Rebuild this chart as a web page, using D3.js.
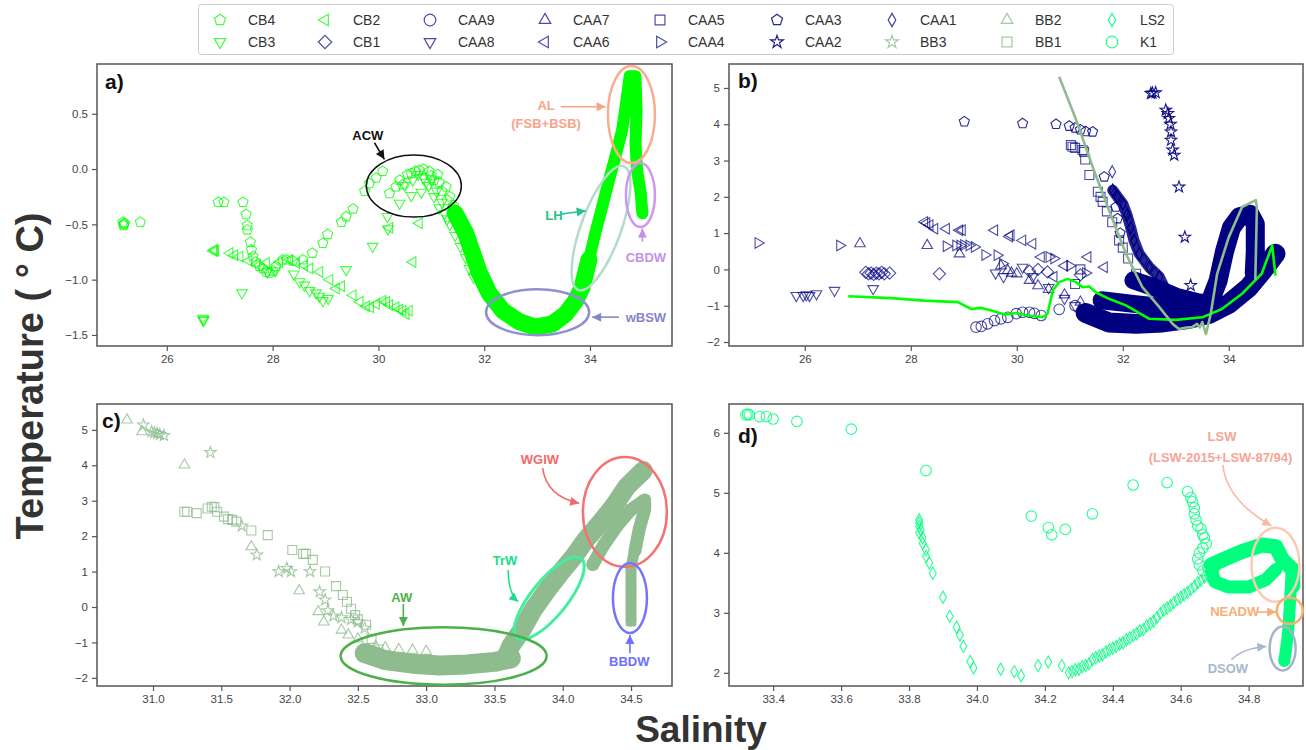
<!DOCTYPE html>
<html>
<head>
<meta charset="utf-8">
<script src="https://cdn.jsdelivr.net/npm/d3@7"></script>
<style>
  body { margin: 0; background: #fff; }
  svg { display: block; font-family: "Liberation Sans", Arial, sans-serif; }
</style>
</head>
<body>
<script>
// ---- panel a : Canada Basin (CB) stations ----
const cb4 = [[25.17,-0.48],[25.19,-0.5],[25.2,-0.49],[25.18,-0.51],[25.5,-0.48],
  [26.97,-0.3],[27.08,-0.3],[27.44,-0.3],[27.5,-0.41],[27.52,-0.51],[27.52,-0.55],[27.58,-0.66],[27.6,-0.73],
  [27.63,-0.79],[27.68,-0.84],[27.75,-0.88],[27.82,-0.9],[27.88,-0.93],[27.94,-0.94],[28.0,-0.92],[28.06,-0.88],
  [28.19,-0.82],[28.26,-0.82],[28.38,-0.83],[28.57,-0.82],[28.75,-0.76],[28.95,-0.67],[29.04,-0.59],[29.3,-0.48],
  [29.39,-0.43],[29.52,-0.36],[29.74,-0.2],[29.83,-0.13],[29.96,-0.08],[30.08,-0.02],[30.21,-0.22],[30.33,-0.16],
  [30.4,-0.1],[30.46,-0.14],[30.55,-0.05],[30.62,-0.04],[30.7,-0.02],[30.77,-0.01],[30.85,0.0],[30.96,-0.02],
  [31.0,-0.06],[31.05,-0.1],[31.12,-0.05],[31.15,-0.12],[31.2,-0.2],[31.28,-0.16],[31.3,-0.28],[31.35,-0.25],
  [31.4,-0.35],[31.42,-0.33],[31.48,-0.42],[31.5,-0.45],[31.55,-0.5],[31.58,-0.55],[31.6,-0.58],[31.62,-0.62],
  [31.7,-0.7],[31.75,-0.78]];
const cb3 = [[26.68,-1.35],[26.7,-1.36],[26.69,-1.37],[27.42,-1.12],[27.9,-0.93],[28.05,-0.92],[28.4,-0.95],
  [28.51,-1.02],[28.6,-1.05],[28.7,-1.1],[28.82,-1.12],[28.88,-1.15],[28.95,-1.19],[29.05,-1.17],[29.39,-0.91],
  [29.89,-0.7],[30.17,-0.43],[30.18,-0.54],[30.4,-0.31],[30.5,-0.15],[30.62,-0.24],[30.65,-0.1],[30.75,-0.05],
  [30.81,-0.21],[30.85,-0.08],[30.9,-0.12],[30.95,-0.15],[31.0,-0.1],[31.05,-0.25],[31.1,-0.2],[31.15,-0.35],
  [31.2,-0.3],[31.25,-0.4],[31.3,-0.45],[31.35,-0.5],[31.45,-0.6],[31.55,-0.7],[31.65,-0.8],[31.72,-0.9],[31.8,-0.98]];
const cb2 = [[26.88,-0.74],[26.9,-0.73],[26.92,-0.74],[27.19,-0.76],[27.28,-0.78],[27.38,-0.79],[27.55,-0.83],
  [27.7,-0.86],[27.88,-0.85],[28.13,-0.84],[28.32,-0.82],[28.45,-0.85],[28.6,-0.87],[28.7,-0.9],[28.89,-0.93],
  [29.08,-1.0],[29.2,-1.08],[29.3,-1.06],[29.52,-1.14],[29.65,-1.2],[29.77,-1.24],[29.85,-1.25],[29.96,-1.22],
  [30.08,-1.19],[30.15,-1.2],[30.21,-1.23],[30.33,-1.25],[30.4,-1.27],[30.46,-1.28],[30.52,-1.31],[30.58,-1.28],
  [30.21,-0.53],[30.65,-0.84],[30.77,-0.49]];
// dense CB profiles (centre of the saturated band)
const cbBandLow = [[31.45,-0.4],[31.65,-0.58],[31.78,-0.76],[31.91,-0.94],[32.09,-1.12],[32.35,-1.28],[32.66,-1.38],
  [32.97,-1.43],[33.29,-1.4],[33.54,-1.31],[33.73,-1.19],[33.85,-1.07],[33.98,-0.82]];
const cbBandHigh = [[33.98,-0.82],[34.1,-0.58],[34.23,-0.34],[34.36,-0.1],[34.48,0.11],[34.61,0.36],[34.7,0.66],
  [34.75,0.84],[34.86,0.84],[34.88,0.53],[34.86,0.23],[34.89,-0.01],[34.96,-0.22],[34.99,-0.4]];

// ---- panel b : Canadian Arctic Archipelago (CAA) stations ----
const cb1 = [[27.15,-0.08],[27.2,-0.12],[27.25,-0.1],[27.3,-0.14],[27.35,-0.1],[27.4,-0.12],[27.45,-0.08],
  [27.5,-0.12],[27.6,-0.1],[28.54,-0.12],[30.24,-0.05],[30.4,0.0],[30.58,-0.07],[31.2,-0.15]];
const caa9 = [[29.23,-1.59],[29.33,-1.57],[29.45,-1.5],[29.58,-1.41],[29.7,-1.36],[29.83,-1.32],[29.99,-1.22],
  [30.11,-1.18],[30.24,-1.18],[30.33,-1.21],[30.46,-1.27],[30.8,-1.1],[31.1,-1.0],[31.3,-1.2],[31.6,-0.9]];
const caa8 = [[25.84,-0.72],[25.97,-0.72],[26.03,-0.7],[26.09,-0.72],[26.22,-0.67],[26.56,-0.58],[27.29,-0.53],
  [29.6,-0.1],[29.75,-0.2],[30.11,0.06],[30.3,-0.2],[30.6,-0.5],[30.9,-0.8],[31.1,-1.0]];
const caa7 = [[27.04,0.71],[28.31,0.66],[28.92,0.43],[29.7,0.1],[29.83,-0.03],[29.9,-0.1],[30.0,-0.12],
  [30.24,-0.3],[30.4,-0.45],[30.6,-0.55],[30.9,-0.7],[31.2,-0.9],[31.5,-1.1]];
const caa6 = [[28.26,1.31],[28.3,1.28],[28.36,1.22],[28.45,1.12],[28.67,1.12],[28.92,1.08],[28.97,1.08],
  [29.58,1.08],[29.86,0.91],[29.89,0.94],[30.11,0.8],[30.3,0.71],[30.46,0.34],[31.34,0.34],[31.65,0.06],
  [30.9,0.1],[30.7,-0.2]];
const caa5 = [[31.02,3.43],[31.05,3.38],[31.1,3.35],[31.24,3.29],[31.27,3.24],[31.29,3.03],[31.37,2.6],
  [31.53,2.14],[31.58,2.0],[31.62,1.86],[31.7,1.6],[31.8,1.3],[31.93,0.8],[32.0,0.6],[32.1,0.3],[32.25,-0.12],
  [32.37,-0.3],[31.2,0.0],[31.1,-0.4]];
const caa4 = [[25.12,0.73],[26.66,0.66],[28.67,0.64],[28.85,0.66],[28.93,0.66],[29.0,0.67],[29.1,0.66],
  [29.2,0.62],[29.4,0.4],[29.63,0.39],[29.73,0.16],[30.61,0.34],[30.7,0.3],[31.0,0.1],[31.3,-0.1]];
const caa3 = [[29.01,4.07],[30.11,4.02],[30.74,4.0],[30.99,3.95],[31.1,3.9],[31.2,3.85],[31.3,3.8],[31.43,3.79],
  [31.65,2.55],[31.87,1.72],[31.9,1.4],[31.95,1.0]];
const caa2 = [[32.53,4.85],[32.56,4.86],[32.62,4.87],[32.81,4.39],[32.85,4.3],[32.87,4.16],[32.9,4.0],
  [32.91,3.79],[32.91,3.56],[32.94,3.29],[32.97,3.15],[33.06,2.27],[33.17,0.89],[33.28,-0.44]];
const caa1 = [[31.8,2.69],[31.81,2.18],[31.85,2.1],[31.9,2.0],[31.95,1.9],[32.0,1.81],[32.05,1.6],[32.08,1.5],
  [32.12,1.35],[32.15,1.15],[32.18,1.0],[32.21,0.8],[32.25,0.6],[32.31,0.43],[32.4,0.25],[32.5,0.06],
  [32.6,-0.1],[32.69,-0.21],[32.78,-0.49]];
// dense CAA profiles
const caa1Band = [[31.81,2.18],[31.9,2.0],[32.0,1.81],[32.08,1.5],[32.15,1.15],[32.21,0.8],[32.31,0.43],
  [32.5,0.06],[32.69,-0.21],[32.78,-0.49]];
const caaBandLow = [[31.3,-1.2],[31.74,-1.46],[32.25,-1.5],[32.75,-1.46],[33.25,-1.36],[33.63,-1.22],[34.0,-0.95],
  [34.38,-0.49],[34.69,0.06],[34.88,0.43]];
const caaBandMid = [[31.6,-0.85],[32.2,-0.95],[32.8,-1.05],[33.4,-1.1]];
const caaBandTop = [[32.2,-0.3],[32.6,-0.5],[33.0,-0.75],[33.4,-0.9],[33.7,-0.95]];
const caaArm = [[33.63,-0.95],[33.8,-0.3],[33.92,0.5],[34.05,1.15],[34.2,1.45],[34.4,1.52],[34.5,1.25],
  [34.5,0.5],[34.48,-0.1]];
// mean profiles drawn as lines
const cbLine = [[26.82,-0.74],[27.63,-0.79],[28.26,-0.86],[28.89,-0.9],[29.14,-1.09],[29.33,-1.06],[29.52,-1.13],
  [29.77,-1.24],[30.0,-1.2],[30.2,-1.27],[30.49,-1.32],[30.58,-1.22],[30.68,-0.58],[30.8,-0.35],[30.96,-0.26],
  [31.12,-0.35],[31.24,-0.49],[31.37,-0.47],[31.49,-0.63],[31.74,-0.81],[32.06,-0.99],[32.5,-1.36],[33.0,-1.39],
  [33.5,-1.32],[33.87,-1.09],[34.25,-0.67],[34.62,-0.12],[34.82,0.66],[34.88,-0.17]];
const bbLine = [[30.8,5.31],[31.12,4.12],[31.43,2.83],[31.74,1.63],[32.06,0.43],[32.37,-0.49],[32.69,-1.04],
  [32.94,-1.5],[33.06,-1.64],[33.2,-1.6],[33.31,-1.59],[33.4,-1.5],[33.45,-1.6],[33.5,-1.45],[33.57,-1.78],
  [33.66,-1.22],[33.78,-0.12],[34.0,0.89],[34.25,1.72],[34.51,1.91],[34.53,1.7],[34.5,-0.3]];

// ---- panel c : Baffin Bay (BB) stations ----
const bb3 = [[30.93,5.14],[30.99,4.95],[31.01,4.92],[31.03,4.9],[31.05,4.87],[31.08,4.84],[31.42,4.36],
  [31.65,2.29],[31.76,1.47],[31.92,1.0],[31.98,1.09],[32.01,1.0],[32.15,1.0],[32.22,0.43],[32.26,0.2],
  [32.28,-0.1],[32.32,-0.25],[32.38,-0.3],[32.45,-0.35],[32.5,-0.42],[32.55,-0.6]];
const bb2 = [[30.81,5.28],[30.92,4.95],[31.23,4.01],[31.72,1.7],[32.07,0.46],[32.21,-0.13],[32.25,-0.42],
  [32.38,-0.65],[32.43,-0.79],[32.5,-0.9],[32.63,-1.12],[32.7,-1.15],[32.8,-1.2],[32.9,-1.22],[33.0,-1.25]];
const bb1 = [[31.23,2.69],[31.25,2.69],[31.32,2.65],[31.4,2.78],[31.43,2.83],[31.45,2.82],[31.47,2.69],
  [31.52,2.55],[31.55,2.48],[31.58,2.46],[31.61,2.41],[31.72,2.16],[31.84,2.03],[32.02,1.61],[32.1,1.5],
  [32.12,1.5],[32.17,1.33],[32.26,1.0],[32.34,0.59],[32.39,0.34],[32.42,0.15],[32.45,-0.05],[32.48,-0.23],
  [32.5,-0.35],[32.56,-0.5],[32.6,-0.9],[32.65,-1.2]];
const bbBandLow = [[32.55,-1.3],[32.7,-1.5],[32.9,-1.6],[33.1,-1.65],[33.3,-1.62],[33.5,-1.55],[33.62,-1.45]];
const bbBandRise = [[33.58,-1.45],[33.62,-1.1],[33.7,-0.65],[33.78,-0.1],[33.88,0.45],[33.98,0.95],[34.08,1.42],
  [34.17,1.9],[34.27,2.35],[34.37,2.83],[34.47,3.4],[34.59,3.85]];
const bbBandBranch = [[34.22,1.2],[34.3,1.75],[34.4,2.3],[34.5,2.75],[34.6,3.02],[34.6,2.75],[34.56,2.2],[34.53,1.6]];
const bbBandDeep = [[34.53,1.7],[34.5,1.1],[34.5,0.4],[34.5,-0.4]];

// ---- panel d : Labrador Sea (LS2) and K1 ----
const ls2 = [[33.83,4.55],[33.83,4.5],[33.83,4.44],[33.835,4.38],[33.83,4.33],[33.84,4.25],[33.84,4.16],
  [33.85,4.05],[33.85,3.94],[33.86,3.83],[33.87,3.66],[33.9,3.26],[33.92,2.94],[33.94,2.76],[33.95,2.63],
  [33.96,2.44],[33.98,2.19],[33.99,2.08],[34.07,2.06],[34.11,2.02],[34.13,1.95],[34.18,2.12],[34.21,2.18],
  [34.25,2.12],[34.27,2.0],[34.28,2.02],[34.29,2.05],[34.3,2.06],[34.31,2.1],[34.32,2.12],[34.33,2.15],
  [34.34,2.22],[34.35,2.25],[34.36,2.28],[34.37,2.3],[34.38,2.35],[34.39,2.38],[34.4,2.41],[34.41,2.44],
  [34.42,2.48],[34.43,2.5],[34.44,2.55],[34.45,2.58],[34.46,2.62],[34.47,2.65],[34.48,2.7],[34.49,2.72],
  [34.5,2.78],[34.51,2.82],[34.52,2.86],[34.53,2.92],[34.54,2.99],[34.55,3.04],[34.56,3.08],[34.57,3.12],
  [34.58,3.17],[34.59,3.22],[34.6,3.26],[34.61,3.3],[34.62,3.34],[34.63,3.39],[34.64,3.44],[34.65,3.5],
  [34.66,3.54],[34.67,3.6],[34.68,3.63],[34.69,3.66],[34.7,3.72],[34.71,3.78]];
const k1 = [[33.32,6.3],[33.325,6.31],[33.33,6.3],[33.36,6.27],[33.38,6.27],[33.4,6.23],[33.47,6.19],[33.63,6.06],
  [33.85,5.37],[34.16,4.61],[34.21,4.42],[34.22,4.3],[34.26,4.39],[34.34,4.65],[34.46,5.13],[34.56,5.17],
  [34.62,5.02],[34.63,4.92],[34.635,4.85],[34.64,4.75],[34.64,4.65],[34.645,4.55],[34.65,4.45],[34.66,4.4],
  [34.665,4.3],[34.67,4.25],[34.675,4.15],[34.665,4.08],[34.655,4.0],[34.65,3.9],[34.655,3.8],[34.665,3.7],
  [34.68,3.75]];
const k1Upper = [[34.69,3.8],[34.73,3.9],[34.78,4.02],[34.84,4.13],[34.88,4.1],[34.9,3.88],[34.93,3.72],[34.93,3.45]];
const k1Lower = [[34.69,3.72],[34.7,3.52],[34.74,3.43],[34.8,3.43],[34.85,3.55],[34.88,3.72]];
const k1Deep = [[34.925,3.5],[34.92,3.0],[34.915,2.6],[34.905,2.2]];

// ---- axes ----
const ticksAx = [26, 28, 30, 32, 34], ticksAy = [-1.5, -1.0, -0.5, 0.0, 0.5];
const ticksBx = [26, 28, 30, 32, 34], ticksBy = [-2, -1, 0, 1, 2, 3, 4, 5];
const ticksCx = [31.0, 31.5, 32.0, 32.5, 33.0, 33.5, 34.0, 34.5], ticksCy = [-2, -1, 0, 1, 2, 3, 4, 5];
const ticksDx = [33.4, 33.6, 33.8, 34.0, 34.2, 34.4, 34.6, 34.8], ticksDy = [2, 3, 4, 5, 6];

const LIME = "#00ff00", NAVY = "#000080", DSG = "#8fbc8f", SPRING = "#00ff7f";

const styles = {
  CB4: ["pentagon", LIME, 0.75], CB3: ["tri_down", LIME, 0.75], CB2: ["tri_left", LIME, 0.75],
  CB1: ["diamond", NAVY, 0.7], CAA9: ["circle", NAVY, 0.7], CAA8: ["tri_down", NAVY, 0.7],
  CAA7: ["tri_up", NAVY, 0.7], CAA6: ["tri_left", NAVY, 0.7], CAA5: ["square", NAVY, 0.7],
  CAA4: ["tri_right", NAVY, 0.7], CAA3: ["pentagon", NAVY, 0.85], CAA2: ["star", NAVY, 0.9],
  CAA1: ["thin_diamond", NAVY, 0.75], BB3: ["star", DSG, 0.8], BB2: ["tri_up", DSG, 0.8],
  BB1: ["square", DSG, 0.8], LS2: ["thin_diamond", SPRING, 0.85], K1: ["circle", SPRING, 0.85]
};
const legendCols = [["CB4", "CB3"], ["CB2", "CB1"], ["CAA9", "CAA8"], ["CAA7", "CAA6"], ["CAA5", "CAA4"],
  ["CAA3", "CAA2"], ["CAA1", "BB3"], ["BB2", "BB1"], ["LS2", "K1"]];

const panels = [
  { key: "a", x0: 97, x1: 672, y0: 64, y1: 346, xd: [24.68, 35.55], yd: [-1.60, 0.95], xt: ticksAx, yt: ticksAy,
    xf: d3.format("d"), yf: d3.format(".1f"), lx: 105, ly: 89,
    bands: [[cbBandLow, LIME, 17, "pentagon", 1], [cbBandHigh, LIME, 12, "pentagon", 1]],
    series: [["CB2", cb2], ["CB3", cb3], ["CB4", cb4]], lines: [] },
  { key: "b", x0: 729, x1: 1303, y0: 64, y1: 346, xd: [24.57, 35.4], yd: [-2.11, 5.66], xt: ticksBx, yt: ticksBy,
    xf: d3.format("d"), yf: d3.format("d"), lx: 738, ly: 88,
    bands: [[caaBandLow, NAVY, 20, "square", 1], [caaBandMid, NAVY, 18, "tri_up", 1], [caaBandTop, NAVY, 18, "square", 1],
      [caaArm, NAVY, 19, "tri_left", 1], [caa1Band, NAVY, 11, "thin_diamond", 0.85]],
    series: [["CB1", cb1], ["CAA9", caa9], ["CAA8", caa8], ["CAA7", caa7], ["CAA6", caa6], ["CAA5", caa5],
      ["CAA4", caa4], ["CAA3", caa3], ["CAA2", caa2], ["CAA1", caa1]],
    lines: [[cbLine, LIME], [bbLine, DSG]] },
  { key: "c", x0: 97, x1: 672, y0: 404, y1: 686, xd: [30.59, 34.80], yd: [-2.23, 5.73], xt: ticksCx, yt: ticksCy,
    xf: d3.format(".1f"), yf: d3.format("d"), lx: 102, ly: 428,
    bands: [[bbBandLow, DSG, 20, "tri_up", 1], [bbBandRise, DSG, 19, "square", 1], [bbBandBranch, DSG, 13, "square", 1],
      [bbBandDeep, DSG, 11, "square", 1]],
    series: [["BB1", bb1], ["BB3", bb3], ["BB2", bb2]], lines: [] },
  { key: "d", x0: 729, x1: 1303, y0: 404, y1: 686, xd: [33.27, 34.96], yd: [1.78, 6.48], xt: ticksDx, yt: ticksDy,
    xf: d3.format(".1f"), yf: d3.format("d"), lx: 738, ly: 443,
    bands: [[k1Upper, SPRING, 15, "circle", 1], [k1Lower, SPRING, 13, "circle", 1], [k1Deep, SPRING, 12, "circle", 1]],
    series: [["LS2", ls2], ["K1", k1]], lines: [] }
];

// annotations (positions in salinity / temperature units)
const notes = {
  a: [
    { e: [30.67, -0.154], rx: 47.5, ry: 31, rot: 0, c: "#111", w: 1.5 },
    { e: [34.783, 0.493], rx: 23.5, ry: 48.5, rot: 0, c: "#f9ad90", w: 2.5 },
    { e: [34.208, -0.534], rx: 20, ry: 66, rot: 20, c: "#b4dcc8", w: 2.5 },
    { e: [34.953, -0.235], rx: 14.5, ry: 32, rot: 0, c: "#cc99ee", w: 2.5 },
    { e: [33.009, -1.294], rx: 51.5, ry: 23, rot: 0, c: "#9090d0", w: 2.5 },
    { t: "ACW", at: [29.80, 0.30], c: "#111" },
    { a: [[29.925, 0.238], [30.113, 0.088]], c: "#111" },
    { t: "AL", at: [33.17, 0.579], c: "#f7a488" },
    { t: "(FSB+BSB)", at: [33.17, 0.416], c: "#f7a488" },
    { a: [[33.447, 0.564], [34.296, 0.564]], c: "#f7a488" },
    { t: "LH", at: [33.32, -0.416], c: "#22c28c" },
    { a: [[33.466, -0.407], [33.919, -0.377]], c: "#22c28c" },
    { t: "CBDW", at: [35.057, -0.796], c: "#c690ea" },
    { a: [[34.99, -0.658], [34.99, -0.537]], c: "#c690ea" },
    { t: "wBSW", at: [35.057, -1.339], c: "#8686c6" },
    { a: [[34.547, -1.339], [34.04, -1.339]], c: "#8686c6" }
  ],
  b: [],
  c: [
    { e: [34.455, 2.684], rx: 42, ry: 55, rot: 0, c: "#f47272", w: 2.5 },
    { e: [33.901, 0.246], rx: 18, ry: 51, rot: 39, c: "#44eea0", w: 3 },
    { e: [33.128, -1.384], rx: 103, ry: 28.7, rot: 0, c: "#4cb04c", w: 2.5 },
    { e: [34.492, 0.254], rx: 17, ry: 35, rot: 0, c: "#7474ff", w: 2.5 },
    { t: "WGIW", at: [33.833, 4.153], c: "#f46a6a" },
    { a: [[33.853, 3.918], [33.882, 3.116], [34.121, 2.929]], c: "#f46a6a" },
    { t: "TrW", at: [33.577, 1.308], c: "#22dd88" },
    { a: [[33.601, 1.045], [33.601, 0.387], [33.674, 0.15]], c: "#22dd88" },
    { t: "AW", at: [32.821, 0.274], c: "#4cb04c" },
    { a: [[32.833, 0.085], [32.833, -0.537]], c: "#4cb04c" },
    { t: "BBDW", at: [34.487, -1.545], c: "#7070ff" },
    { a: [[34.492, -1.309], [34.492, -0.791]], c: "#7070ff" }
  ],
  d: [
    { e: [34.879, 3.8], rx: 24, ry: 37, rot: 0, c: "#fbcbb4", w: 2.5 },
    { e: [34.921, 3.033], rx: 13, ry: 13, rot: 0, c: "#f5b070", w: 2.5 },
    { e: [34.9, 2.405], rx: 13, ry: 22, rot: 0, c: "#a4b4c8", w: 2.5 },
    { t: "LSW", at: [34.7215, 5.938], c: "#f8a494" },
    { t: "(LSW-2015+LSW-87/94)", at: [34.717, 5.595], c: "#f8a494" },
    { a: [[34.724, 5.467], [34.734, 4.883], [34.867, 4.45]], c: "#f8b8a4" },
    { t: "NEADW", at: [34.759, 3.022], c: "#f5ae78" },
    { a: [[34.827, 3.012], [34.881, 3.012]], c: "#f5ae78" },
    { t: "DSOW", at: [34.739, 2.078], c: "#a8b8cc" },
    { a: [[34.749, 2.217], [34.783, 2.411], [34.852, 2.438]], c: "#a8b8cc" }
  ]
};

function shapePath(shape, r) {
  const reg = (n, rot, rr) => d3.range(n).map(i => {
    const a = rot + i * 2 * Math.PI / n;
    return [rr * Math.sin(a), -rr * Math.cos(a)];
  });
  let p;
  switch (shape) {
    case "circle": return `M${r},0A${r},${r},0,1,1,${-r},0A${r},${r},0,1,1,${r},0Z`;
    case "square": { const s = r * 0.85; p = [[-s, -s], [s, -s], [s, s], [-s, s]]; break; }
    case "diamond": p = reg(4, 0, r * 1.15); break;
    case "thin_diamond": p = [[0, -r * 1.15], [r * 0.65, 0], [0, r * 1.15], [-r * 0.65, 0]]; break;
    case "tri_up": p = reg(3, 0, r * 1.15); break;
    case "tri_down": p = reg(3, Math.PI, r * 1.15); break;
    case "tri_left": p = reg(3, -Math.PI / 2, r * 1.15); break;
    case "tri_right": p = reg(3, Math.PI / 2, r * 1.15); break;
    case "pentagon": p = reg(5, 0, r); break;
    case "star": p = d3.range(10).map(i => {
      const a = i * Math.PI / 5, rr = i % 2 ? r * 0.45 : r * 1.15;
      return [rr * Math.sin(a), -rr * Math.cos(a)];
    }); break;
  }
  return "M" + p.map(q => q.map(v => v.toFixed(2)).join(",")).join("L") + "Z";
}

const W = 1306, H = 750, R = 5.3;
const svg = d3.select("body").append("svg").attr("width", W).attr("height", H);
svg.append("rect").attr("width", W).attr("height", H).attr("fill", "#fff");

function arrow(g, pts, color) {
  const path = pts.length === 3
    ? `M${pts[0]}Q${pts[1]} ${pts[2]}` : `M${pts[0]}L${pts[1]}`;
  g.append("path").attr("d", path).attr("fill", "none").attr("stroke", color).attr("stroke-width", 1.6);
  const [ex, ey] = pts[pts.length - 1], [px, py] = pts[pts.length - 2];
  const ang = Math.atan2(ey - py, ex - px), L = 9, Wd = 4.5;
  const bx = ex - L * Math.cos(ang), by = ey - L * Math.sin(ang);
  g.append("path")
    .attr("d", `M${ex},${ey}L${bx - Wd * Math.sin(ang)},${by + Wd * Math.cos(ang)}L${bx + Wd * Math.sin(ang)},${by - Wd * Math.cos(ang)}Z`)
    .attr("fill", color);
}

panels.forEach(p => {
  const x = d3.scaleLinear().domain(p.xd).range([p.x0, p.x1]);
  const y = d3.scaleLinear().domain(p.yd).range([p.y1, p.y0]);
  const g = svg.append("g");

  g.append("clipPath").attr("id", "clip-" + p.key).append("rect")
    .attr("x", p.x0).attr("y", p.y0).attr("width", p.x1 - p.x0).attr("height", p.y1 - p.y0);
  const plot = g.append("g").attr("clip-path", `url(#clip-${p.key})`);

  const line = d3.line().x(d => x(d[0])).y(d => y(d[1]));

  // dense bands of overlapping markers
  p.bands.forEach(([data, color, w, shape, op]) => {
    plot.append("path").attr("d", line(data)).attr("fill", "none").attr("stroke", color)
      .attr("stroke-opacity", op)
      .attr("stroke-width", w).attr("stroke-linejoin", "round").attr("stroke-linecap", "round");
  });
  p.bands.forEach(([data, color, w, shape]) => {
    plot.append("g").selectAll("path").data(data).join("path")
      .attr("d", shapePath(shape, R))
      .attr("transform", d => `translate(${x(d[0])},${y(d[1])})`)
      .attr("fill", "none").attr("stroke", color).attr("stroke-width", 1.1);
  });

  // scatter markers
  p.series.forEach(([name, data]) => {
    const [shape, color, op] = styles[name];
    plot.append("g").selectAll("path").data(data).join("path")
      .attr("d", shapePath(shape, R))
      .attr("transform", d => `translate(${x(d[0])},${y(d[1])})`)
      .attr("fill", "none").attr("stroke", color).attr("stroke-opacity", op).attr("stroke-width", 1.1);
  });

  // mean profile lines
  p.lines.forEach(([data, color]) => {
    plot.append("path").attr("d", line(data)).attr("fill", "none").attr("stroke", color)
      .attr("stroke-width", 2.6).attr("stroke-linejoin", "round");
  });

  // frame and axes
  g.append("rect").attr("x", p.x0).attr("y", p.y0).attr("width", p.x1 - p.x0).attr("height", p.y1 - p.y0)
    .attr("fill", "none").attr("stroke", "#555").attr("stroke-width", 1.5);
  const ax = g.append("g").attr("transform", `translate(0,${p.y1})`)
    .call(d3.axisBottom(x).tickValues(p.xt).tickFormat(p.xf).tickSize(5).tickPadding(4));
  const ay = g.append("g").attr("transform", `translate(${p.x0},0)`)
    .call(d3.axisLeft(y).tickValues(p.yt).tickFormat(p.yf).tickSize(5).tickPadding(4));
  [ax, ay].forEach(a => {
    a.select(".domain").remove();
    a.selectAll("line").attr("stroke", "#555").attr("stroke-width", 1.2);
    a.selectAll("text").attr("fill", "#444").style("font-size", "11.5px")
      .style("font-family", "'Liberation Sans', Arial, sans-serif");
  });

  g.append("text").attr("x", p.lx).attr("y", p.ly).text(p.key + ")")
    .attr("font-size", 21).attr("font-weight", "bold").attr("fill", "#111");

  // annotations
  const ann = g.append("g");
  notes[p.key].forEach(n => {
    if (n.e) {
      ann.append("ellipse").attr("rx", n.rx).attr("ry", n.ry)
        .attr("transform", `translate(${x(n.e[0])},${y(n.e[1])}) rotate(${n.rot})`)
        .attr("fill", "none").attr("stroke", n.c).attr("stroke-width", n.w);
    } else if (n.t) {
      ann.append("text").attr("x", x(n.at[0])).attr("y", y(n.at[1])).attr("dy", "0.35em")
        .attr("text-anchor", "middle").attr("font-size", 13).attr("font-weight", "bold")
        .attr("fill", n.c).text(n.t);
    } else if (n.a) {
      arrow(ann, n.a.map(d => [x(d[0]), y(d[1])]), n.c);
    }
  });
});

// legend
const legendX = [220, 325, 430, 545, 660, 777, 892, 1007, 1112];
const lg = svg.append("g");
lg.append("rect").attr("x", 198.5).attr("y", 4.5).attr("width", 975).attr("height", 50).attr("rx", 3)
  .attr("fill", "#fff").attr("stroke", "#ccc");
legendCols.forEach((col, i) => {
  col.forEach((name, j) => {
    const [shape, color, op] = styles[name];
    const cy = 20 + j * 22;
    lg.append("path").attr("d", shapePath(shape, 5.8)).attr("transform", `translate(${legendX[i]},${cy})`)
      .attr("fill", "none").attr("stroke", color).attr("stroke-opacity", op).attr("stroke-width", 1.2);
    lg.append("text").attr("x", legendX[i] + 28).attr("y", cy).attr("dy", "0.36em")
      .attr("font-size", 14).attr("fill", "#333").text(name);
  });
});

// shared axis titles
svg.append("text").attr("transform", "translate(43,376) rotate(-90)").attr("text-anchor", "middle")
  .attr("font-size", 38).attr("font-weight", "bold").attr("fill", "#333").text("Temperature ( ° C)");
svg.append("text").attr("x", 701).attr("y", 742).attr("text-anchor", "middle")
  .attr("font-size", 37).attr("font-weight", "bold").attr("fill", "#333").text("Salinity");
</script>
</body>
</html>
